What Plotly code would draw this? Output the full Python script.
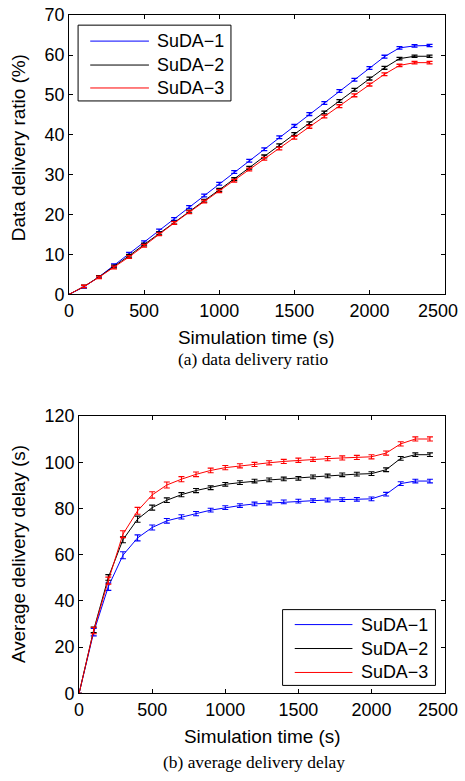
import plotly.graph_objects as go

# Page geometry: the HTML body keeps its default 8 px margin and the page is
# shown at a slight zoom-out, so layout positions are given in final page
# pixels and converted to figure fractions below.
PAGE_W, PAGE_H = 465, 781
VIEW_SCALE = 0.977
BODY_MARGIN = 8
W = round(PAGE_W / VIEW_SCALE) - 2 * BODY_MARGIN
H = round(PAGE_H / VIEW_SCALE) - 2 * BODY_MARGIN

# ---- data -------------------------------------------------------------
time_s = [0, 100, 200, 300, 400, 500, 600, 700, 800, 900, 1000, 1100, 1200,
          1300, 1400, 1500, 1600, 1700, 1800, 1900, 2000, 2100, 2200, 2300, 2400]

series_names = ["SuDA\u22121", "SuDA\u22122", "SuDA\u22123"]
series_colors = ["#0000ff", "#000000", "#ff0000"]

# (a) data delivery ratio (%)
ratio_suda1 = [0, 1.9, 4.4, 7.3, 10.2, 13.1, 16.0, 18.9, 21.9, 24.8, 27.75, 30.7, 33.5,
               36.4, 39.4, 42.25, 45.2, 48.0, 51.0, 53.8, 56.75, 59.6, 61.8, 62.3, 62.4]
ratio_suda2 = [0, 2.0, 4.4, 7.0, 9.7, 12.5, 15.3, 18.0, 20.8, 23.5, 26.2, 28.9, 31.75,
               34.6, 37.4, 40.2, 42.9, 45.6, 48.5, 51.3, 54.1, 56.8, 59.1, 59.7, 59.7]
ratio_suda3 = [0, 2.0, 4.3, 6.75, 9.4, 12.2, 15.1, 17.9, 20.6, 23.3, 25.9, 28.5, 31.3,
               34.0, 36.6, 39.3, 42.0, 44.6, 47.2, 49.9, 52.6, 55.2, 57.4, 58.1, 58.1]
ratio_err = [0, 0.3, 0.3, 0.35, 0.35, 0.35, 0.35, 0.35, 0.35, 0.35, 0.35, 0.35, 0.35,
             0.35, 0.35, 0.35, 0.35, 0.35, 0.35, 0.35, 0.35, 0.35, 0.3, 0.3, 0.3]

# (b) average delivery delay (s)
delay_suda1 = [0, 26.5, 46.2, 59.8, 67.3, 71.8, 74.7, 76.4, 77.8, 79.3, 80.4, 81.3, 82.0,
               82.4, 82.9, 83.2, 83.4, 83.7, 83.9, 84.0, 84.2, 86.2, 90.8, 91.9, 91.9]
delay_suda2 = [0, 27.5, 50.2, 66.5, 75.4, 80.4, 83.6, 86.0, 87.8, 89.0, 90.5, 91.2, 91.9,
               92.4, 92.8, 93.1, 93.7, 94.1, 94.6, 94.9, 95.1, 96.8, 101.7, 103.3, 103.3]
delay_suda3 = [0, 27.2, 48.8, 68.9, 79.0, 85.9, 90.2, 92.7, 94.8, 96.5, 97.7, 98.5, 99.1,
               99.8, 100.4, 100.9, 101.3, 101.6, 101.9, 102.1, 102.4, 104.0, 108.0, 110.1, 110.1]
delay_err1 = [0, 1.6, 1.6, 1.5, 1.3, 1.1, 1.0, 0.9, 0.9, 0.8, 0.8, 0.8, 0.8,
              0.8, 0.8, 0.8, 0.8, 0.8, 0.8, 0.8, 0.8, 0.8, 0.8, 0.8, 0.8]
delay_err2 = [0, 1.2, 1.2, 1.3, 1.3, 1.1, 1.0, 0.9, 0.9, 0.8, 0.8, 0.8, 0.8,
              0.8, 0.8, 0.8, 0.8, 0.8, 0.8, 0.8, 0.8, 0.8, 0.8, 0.8, 0.8]
delay_err3 = [0, 1.4, 1.5, 1.5, 1.5, 1.4, 1.3, 1.1, 1.0, 1.0, 0.9, 0.9, 0.9,
              0.9, 0.9, 0.9, 0.9, 0.9, 0.9, 0.9, 0.9, 0.9, 0.9, 0.9, 0.9]

x_ticks = [0, 500, 1000, 1500, 2000, 2500]
ratio_ticks = [0, 10, 20, 30, 40, 50, 60, 70]
delay_ticks = [0, 20, 40, 60, 80, 100, 120]

x_title = "Simulation time (s)"
ratio_title = "Data delivery ratio (%)"
delay_title = "Average delivery delay (s)"
caption_a = "(a) data delivery ratio"
caption_b = "(b) average delivery delay"

# ---- layout helpers (page pixel -> paper fraction) --------------------
SANS = "Liberation Sans, Arial, Helvetica, sans-serif"
SERIF = "Liberation Serif, Times New Roman, serif"
FS = 17.5 / VIEW_SCALE
CAP_FS = 17 / VIEW_SCALE


def px(x):
    return (x / VIEW_SCALE - BODY_MARGIN) / W


def py(y):
    return 1 - (y / VIEW_SCALE - BODY_MARGIN) / H


fig = go.Figure()

ratio_series = [ratio_suda1, ratio_suda2, ratio_suda3]
delay_series = [delay_suda1, delay_suda2, delay_suda3]
delay_errs = [delay_err1, delay_err2, delay_err3]

for name, color, ys in zip(series_names, series_colors, ratio_series):
    fig.add_trace(go.Scatter(
        x=time_s, y=ys, name=name, mode="lines", showlegend=False,
        line=dict(color=color, width=1),
        error_y=dict(type="data", array=ratio_err, color=color, thickness=1.3, width=3),
        xaxis="x", yaxis="y"))

for name, color, ys, err in zip(series_names, series_colors, delay_series, delay_errs):
    fig.add_trace(go.Scatter(
        x=time_s, y=ys, name=name, mode="lines", showlegend=False,
        line=dict(color=color, width=1),
        error_y=dict(type="data", array=err, color=color, thickness=1.1, width=3),
        xaxis="x2", yaxis="y2"))

axis_common = dict(
    showgrid=False, zeroline=False, showline=True, linecolor="black", linewidth=1,
    mirror="ticks", ticks="inside", ticklen=4, tickcolor="black", tickwidth=1,
    tickfont=dict(family=SANS, size=FS, color="black"),
)

fig.update_layout(
    width=W, height=H,
    margin=dict(l=0, r=0, t=0, b=0),
    paper_bgcolor="white", plot_bgcolor="white",
    showlegend=False,
    xaxis=dict(domain=[px(71), px(442)], range=[0, 2500], tickvals=x_ticks,
               anchor="y", **axis_common),
    yaxis=dict(domain=[py(293), py(13)], range=[0, 70], tickvals=ratio_ticks,
               anchor="x", **axis_common),
    xaxis2=dict(domain=[px(81), px(442)], range=[0, 2500], tickvals=x_ticks,
                anchor="y2", **axis_common),
    yaxis2=dict(domain=[py(693), py(415)], range=[0, 120], tickvals=delay_ticks,
                anchor="x2", **axis_common),
)

annotations = []
shapes = []


def label(text, x, y, family, size, angle=0):
    annotations.append(dict(text=text, x=px(x), y=py(y), xref="paper", yref="paper",
                            xanchor="center", yanchor="middle", textangle=angle,
                            showarrow=False, font=dict(family=family, size=size, color="black")))


# axis titles and captions
label(x_title, 256, 336, SANS, FS + 1)
label(caption_a, 253, 358, SERIF, CAP_FS)
label(ratio_title, 21, 146, SANS, FS + 1, -90)
label(x_title, 262, 736, SANS, FS + 1)
label(caption_b, 254, 762, SERIF, CAP_FS)
label(delay_title, 21, 553, SANS, FS + 1, -90)

# the last x tick label sits at the figure's right edge; keep it inside the div
for y_label in (310, 710):
    annotations.append(dict(text=str(x_ticks[-1]), x=1.0, y=py(y_label),
                            xref="paper", yref="paper", xanchor="right", yanchor="middle",
                            showarrow=False, font=dict(family=SANS, size=FS, color="black")))


def legend_box(x0, y0, x1, y1, rows, line_x0, line_x1, text_x):
    shapes.append(dict(type="rect", xref="paper", yref="paper",
                       x0=px(x0), x1=px(x1), y0=py(y1), y1=py(y0),
                       line=dict(color="black", width=1), fillcolor="white", layer="above"))
    for (name, color), yrow in zip(zip(series_names, series_colors), rows):
        shapes.append(dict(type="line", xref="paper", yref="paper",
                           x0=px(line_x0), x1=px(line_x1), y0=py(yrow), y1=py(yrow),
                           line=dict(color=color, width=1), layer="above"))
        annotations.append(dict(text=name, x=px(text_x), y=py(yrow), xref="paper", yref="paper",
                                xanchor="left", yanchor="middle", showarrow=False,
                                font=dict(family=SANS, size=FS, color="black")))


legend_box(80, 23, 231, 99, [39, 63, 86], 92, 150, 156)
legend_box(282, 609, 433, 685, [624, 648, 672], 294, 351, 357)

fig.update_layout(annotations=annotations, shapes=shapes)

fig.write_html("out.html")
